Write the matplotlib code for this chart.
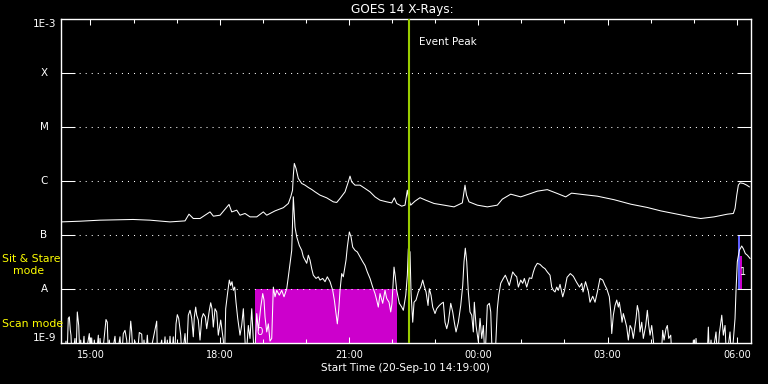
import numpy as np
import matplotlib
matplotlib.use("Agg")
import matplotlib.pyplot as plt
from matplotlib import transforms
from matplotlib.ticker import FixedLocator, MultipleLocator, NullLocator, FixedFormatter

# ---------------- data ----------------
# time in hours of day (values > 24 belong to the next day), flux as log10(W/m^2)
long_t = [14.317, 14.758, 15.222, 15.988, 16.382, 16.847, 17.195, 17.287, 17.387, 17.543,
          17.775, 17.853, 18.008, 18.216, 18.279, 18.395, 18.471, 18.587, 18.703, 18.859,
          19.012, 19.091, 19.284, 19.476, 19.593, 19.648, 19.690, 19.708, 19.731, 19.771,
          19.824, 19.903, 19.980, 20.056, 20.135, 20.212, 20.328, 20.483, 20.636, 20.715,
          20.792, 20.908, 20.984, 21.024, 21.063, 21.140, 21.256, 21.372, 21.488, 21.604,
          21.720, 21.875, 21.991, 22.052, 22.107, 22.223, 22.300, 22.354, 22.381, 22.432,
          22.532, 22.648, 22.780, 22.973, 23.205, 23.437, 23.630, 23.692, 23.727, 23.785,
          23.978, 24.210, 24.442, 24.558, 24.753, 24.985, 25.217, 25.370, 25.602, 25.834,
          26.029, 26.164, 26.454, 26.763, 27.150, 27.538, 27.923, 28.234, 28.619, 28.930,
          29.162, 29.471, 29.780, 29.919, 29.958, 29.998, 30.035, 30.074, 30.151, 30.230,
          30.290]
long_log = [-6.754, -6.741, -6.722, -6.709, -6.722, -6.754, -6.735, -6.611, -6.691, -6.691,
            -6.569, -6.648, -6.630, -6.431, -6.569, -6.537, -6.630, -6.598, -6.661, -6.661,
            -6.569, -6.630, -6.550, -6.491, -6.413, -6.291, -6.167, -5.889, -5.672, -5.765,
            -5.950, -6.043, -6.074, -6.117, -6.154, -6.198, -6.259, -6.309, -6.383, -6.394,
            -6.320, -6.198, -6.013, -5.907, -6.013, -6.074, -6.074, -6.135, -6.198, -6.291,
            -6.352, -6.383, -6.402, -6.309, -6.413, -6.463, -6.444, -6.167, -6.315, -6.444,
            -6.370, -6.306, -6.352, -6.413, -6.444, -6.476, -6.402, -6.074, -6.259, -6.383,
            -6.444, -6.476, -6.444, -6.333, -6.241, -6.291, -6.228, -6.185, -6.157, -6.228,
            -6.291, -6.222, -6.250, -6.278, -6.343, -6.426, -6.487, -6.550, -6.611, -6.661,
            -6.691, -6.661, -6.611, -6.598, -6.506, -6.259, -6.074, -6.031, -6.043, -6.074,
            -6.106]

short_t = [14.317, 14.387, 14.433, 14.456, 14.486, 14.510, 14.533, 14.549, 14.572, 14.642,
           14.665, 14.695, 14.728, 14.758, 14.774, 14.804, 14.851, 14.874, 14.974, 15.002,
           15.029, 15.060, 15.090, 15.129, 15.183, 15.199, 15.222, 15.268, 15.361, 15.391,
           15.419, 15.438, 15.477, 15.570, 15.605, 15.686, 15.721, 15.763, 15.802, 15.842,
           15.872, 15.935, 15.958, 15.988, 16.034, 16.081, 16.134, 16.190, 16.220, 16.243,
           16.278, 16.320, 16.359, 16.538, 16.556, 16.654, 16.684, 16.731, 16.754, 16.784,
           16.812, 16.847, 16.881, 16.923, 16.951, 16.986, 17.016, 17.048, 17.095, 17.125,
           17.195, 17.229, 17.271, 17.311, 17.350, 17.387, 17.411, 17.443, 17.466, 17.503,
           17.543, 17.582, 17.619, 17.666, 17.698, 17.759, 17.791, 17.821, 17.851, 17.891,
           17.930, 17.967, 18.023, 18.083, 18.111, 18.139, 18.186, 18.223, 18.255, 18.285,
           18.316, 18.348, 18.378, 18.418, 18.471, 18.510, 18.548, 18.587, 18.610, 18.664,
           18.703, 18.743, 18.780, 18.808,
           18.859, 18.896, 18.952, 18.998, 19.028, 19.051, 19.091, 19.128, 19.167, 19.207,
           19.244, 19.283, 19.323, 19.383, 19.439, 19.492, 19.555, 19.592, 19.631, 19.671,
           19.708, 19.747, 19.787, 19.847, 19.903, 19.940, 20.019, 20.056, 20.095, 20.135,
           20.172, 20.235, 20.288, 20.328, 20.390, 20.444, 20.497, 20.560, 20.622, 20.660,
           20.699, 20.729, 20.761, 20.792, 20.831, 20.868, 20.931, 20.961, 21.008, 21.047,
           21.086, 21.140, 21.193, 21.256, 21.318, 21.372, 21.425, 21.488, 21.550, 21.604,
           21.643, 21.680, 21.720, 21.782, 21.836, 21.875, 21.929, 21.968, 21.998, 22.045,
           22.075, 22.107, 22.168, 22.224, 22.261, 22.317, 22.354, 22.377, 22.416, 22.439,
           22.479, 22.509, 22.555, 22.609, 22.665, 22.711, 22.741, 22.788, 22.834, 22.864,
           22.904, 22.943, 22.996, 23.036, 23.096, 23.152, 23.189, 23.228, 23.268, 23.305,
           23.361, 23.407, 23.444, 23.484, 23.537, 23.593, 23.639, 23.669, 23.699, 23.732,
           23.769, 23.808, 23.848, 23.885, 23.908, 23.948, 24.001, 24.041, 24.080, 24.117,
           24.157, 24.210, 24.257, 24.289, 24.326, 24.389, 24.442, 24.475, 24.521, 24.581,
           24.628, 24.674, 24.720, 24.760, 24.799, 24.853, 24.892, 24.930, 24.985, 25.031,
           25.069, 25.124, 25.185, 25.240, 25.278, 25.317, 25.370, 25.433, 25.495, 25.549,
           25.602, 25.665, 25.704, 25.742, 25.781, 25.820, 25.858, 25.897, 25.960, 26.002,
           26.060, 26.136, 26.206, 26.280, 26.350, 26.401, 26.431, 26.489, 26.554, 26.593,
           26.656, 26.709, 26.763, 26.825, 26.888, 26.941, 26.981, 27.041, 27.074, 27.097,
           27.134, 27.173, 27.213, 27.250, 27.273, 27.313, 27.336, 27.366, 27.406, 27.445,
           27.482, 27.522, 27.561, 27.598, 27.661, 27.691, 27.723, 27.753, 27.793, 27.830,
           27.886, 27.923, 27.956, 27.986, 28.025, 28.062, 28.102, 28.241, 28.280, 28.311,
           28.357, 28.387, 28.420, 28.466, 28.496, 28.960, 28.991, 29.018, 29.053, 29.088,
           29.308, 29.339, 29.366, 29.401, 29.424, 29.517, 29.552, 29.594, 29.650, 29.687,
           29.726, 29.761, 29.842, 29.877, 29.919, 29.958, 29.981, 30.011, 30.058, 30.113,
           30.151, 30.197, 30.244, 30.276, 30.306]
short_log = [-9.3, -9.3, -8.96, -9.3, -8.54, -8.51, -8.76, -8.85, -9.3, -8.91,
             -9.3, -8.42, -8.67, -9.3, -8.94, -9.3, -8.87, -9.3, -8.82, -9.3,
             -8.90, -9.3, -8.94, -9.3, -8.85, -9.3, -8.91, -9.3, -8.56, -8.61,
             -9.3, -8.94, -9.3, -8.87, -9.3, -8.88, -9.3, -8.82, -8.76, -8.94,
             -9.3, -8.59, -8.79, -9.3, -8.96, -9.3, -8.80, -8.83, -9.3, -8.94,
             -9.3, -8.85, -9.3, -8.59, -9.3, -8.94, -9.3, -8.88, -9.3, -8.94,
             -9.3, -8.87, -9.3, -8.88, -9.3, -8.64, -8.47, -8.54, -8.85, -9.3,
             -8.82, -9.3, -8.48, -8.39, -8.54, -8.88, -8.51, -8.33, -8.48, -8.57,
             -8.94, -8.54, -8.45, -8.51, -8.73, -8.39, -8.25, -8.36, -8.70, -8.36,
             -8.42, -8.85, -8.57, -8.94, -9.3, -8.36, -8.05, -7.83, -7.93, -7.86,
             -8.02, -7.96, -8.24, -8.54, -8.85, -8.67, -8.36, -8.94, -9.3, -8.67,
             -8.91, -8.36, -8.94, -9.3,
             -8.45, -8.76, -8.33, -8.08, -8.20, -8.51, -8.79, -8.64, -8.96, -8.91,
             -7.96, -8.14, -8.02, -8.11, -8.02, -8.14, -7.99, -7.77, -7.52, -7.28,
             -6.29, -6.85, -7.03, -7.19, -7.28, -7.40, -7.52, -7.37, -7.46, -7.62,
             -7.74, -7.80, -7.77, -7.83, -7.80, -7.86, -7.77, -7.86, -8.02, -8.20,
             -8.45, -8.64, -8.39, -8.02, -7.71, -7.77, -7.46, -7.22, -6.94, -7.03,
             -7.22, -7.28, -7.31, -7.40, -7.49, -7.56, -7.68, -7.80, -7.96, -8.08,
             -8.20, -8.33, -8.08, -8.26, -8.02, -8.17, -8.24, -8.42, -8.26, -7.59,
             -7.77, -8.02, -8.26, -8.33, -8.39, -8.11, -7.74, -7.25, -7.31, -8.05,
             -8.61, -8.24, -8.20, -8.05, -7.96, -7.83, -7.93, -8.05, -8.30, -7.99,
             -8.11, -8.33, -8.45, -8.36, -8.30, -8.26, -8.24, -8.61, -8.73, -8.61,
             -8.26, -8.42, -8.61, -8.79, -8.61, -8.30, -7.93, -7.49, -7.24, -7.49,
             -8.05, -8.42, -8.48, -8.79, -8.24, -8.67, -8.97, -8.54, -8.91, -8.67,
             -9.3, -8.30, -8.26, -8.42, -9.3, -9.3, -8.36, -8.11, -7.89, -7.80,
             -7.74, -7.83, -7.93, -7.80, -7.68, -7.74, -7.77, -7.96, -7.83, -7.89,
             -7.80, -7.96, -7.79, -7.80, -7.68, -7.59, -7.52, -7.54, -7.59, -7.62,
             -7.68, -7.74, -7.96, -8.02, -8.05, -7.96, -8.02, -7.91, -8.14, -8.02,
             -7.78, -7.71, -7.76, -7.87, -7.96, -7.89, -8.05, -7.86, -8.04, -8.24,
             -8.13, -8.24, -8.05, -7.80, -7.83, -7.93, -7.99, -8.14, -8.42, -8.82,
             -8.48, -8.30, -8.20, -8.33, -8.24, -8.45, -8.61, -8.45, -8.57, -8.70,
             -8.94, -8.67, -8.73, -8.91, -8.54, -8.30, -8.42, -8.79, -8.61, -8.91,
             -8.67, -8.39, -8.67, -8.85, -8.67, -8.94, -9.3, -9.3, -8.76, -8.94,
             -8.73, -8.67, -8.91, -8.85, -9.3, -9.3, -8.94, -9.3, -8.91, -9.3,
             -9.3, -8.70, -9.3, -8.94, -9.3, -8.79, -9.3, -8.82, -8.48, -8.85,
             -8.67, -9.3, -8.79, -9.3, -8.94, -8.54, -8.02, -7.49, -7.28, -7.20,
             -7.25, -7.34, -7.37, -7.40, -7.43]

t_start, t_end = 14.317, 30.317
event_peak_t = 22.393
scan_block = (18.819, 22.107)          # magenta block: scan mode period
scan_bar = (30.074, 30.109, -7.39)     # right magenta bar (t0, t1, top log flux)
sit_bar = (30.028, 30.074, -7.0)       # right blue bar (t0, t1, top log flux)

major_hours = [15, 18, 21, 24, 27, 30]
major_labels = ["15:00", "18:00", "21:00", "00:00", "03:00", "06:00"]
class_levels = [1e-8, 1e-7, 1e-6, 1e-5, 1e-4]
class_labels = ["A", "B", "C", "M", "X"]

# ---------------- figure ----------------
plt.rcParams['font.family'] = ['DejaVu Sans']
W, H = 768, 384
fig = plt.figure(figsize=(W / 100, H / 100), dpi=100, facecolor='black')
ax = fig.add_axes([61 / W, 1 - 343.3 / H, 689.5 / W, (343.3 - 19) / H])
ax.set_facecolor('black')
ax.set_yscale('log')
ax.set_xlim(t_start, t_end)
ax.set_ylim(1e-9, 1e-3)

for s in ax.spines.values():
    s.set_color('white')
    s.set_linewidth(1.0)

lt = np.array(long_t)
lf = 10.0 ** np.array(long_log)
st = np.array(short_t)
sf = 10.0 ** np.array(short_log)

# scan-mode block
ax.fill_between(list(scan_block), [1e-9, 1e-9], [1e-8, 1e-8], color='#cc00cc',
                linewidth=0, zorder=1)
ax.fill_between([sit_bar[0], sit_bar[1]], [1e-8, 1e-8], [10 ** sit_bar[2]] * 2,
                color='#6060ff', linewidth=0, zorder=1)
ax.fill_between([scan_bar[0], scan_bar[1]], [1e-8, 1e-8], [10 ** scan_bar[2]] * 2,
                color='#cc00cc', linewidth=0, zorder=1.1)

# dotted class grid lines
for lv in class_levels:
    ax.axhline(lv, color='white', linestyle=(0, (1, 4.8)), linewidth=0.75, zorder=1.6)

ax.plot(lt, lf, color='white', linewidth=0.75, zorder=2)
ax.plot(st, sf, color='white', linewidth=0.75, zorder=2)

ax.axvline(event_peak_t, color='#99cc00', linewidth=1.5, zorder=3)
ax.text(22.625, 10 ** -3.431, "Event Peak", color='white', fontsize=7.5,
        ha='left', va='center')
ax.text(18.935, 10 ** -8.80, "0", color='white', fontsize=7.5, ha='center', va='center')
ax.text(30.132, 10 ** -7.685, "1", color='white', fontsize=7, ha='center', va='center')

# ticks
ax.xaxis.set_major_locator(FixedLocator(major_hours))
ax.xaxis.set_major_formatter(FixedFormatter(major_labels))
ax.xaxis.set_minor_locator(MultipleLocator(1))
ax.tick_params(axis='x', which='major', direction='in', length=4.3, width=0.75,
               colors='white', top=True, bottom=True, labelsize=7, pad=5)
ax.tick_params(axis='x', which='minor', direction='in', length=2.9, width=0.75,
               colors='white', top=True, bottom=True)
ax.yaxis.set_major_locator(FixedLocator(class_levels))
ax.yaxis.set_minor_locator(NullLocator())
ax.tick_params(axis='y', which='major', direction='in', length=10, width=0.75,
               colors='white', left=True, right=True, labelleft=False)

# y labels
ytr = transforms.blended_transform_factory(fig.transFigure, ax.transData)
for lv, lb in zip(class_levels, class_labels):
    ax.text(44 / W, lv, lb, transform=ytr, color='white', fontsize=7.5,
            ha='center', va='center')
ax.text(56.5 / W, 1e-3, "1E-3", transform=ytr, color='white', fontsize=7.5,
        ha='right', va='top')
ax.text(56.5 / W, 1e-9, "1E-9", transform=ytr, color='white', fontsize=7.5,
        ha='right', va='bottom')

# mode labels
fig.text(1.7 / W, 1 - 259 / H, "Sit & Stare", color='#ffff00', fontsize=7.8,
         ha='left', va='center')
fig.text(12.7 / W, 1 - 271 / H, "mode", color='#ffff00', fontsize=7.8,
         ha='left', va='center')
fig.text(1.7 / W, 1 - 324 / H, "Scan mode", color='#ffff00', fontsize=7.8,
         ha='left', va='center')

fig.text(402 / W, 1 - 10 / H, "GOES 14 X-Rays:", color='white', fontsize=8.7,
         ha='center', va='center')
fig.text(405.5 / W, 1 - 368 / H, "Start Time (20-Sep-10 14:19:00)", color='white',
         fontsize=7.5, ha='center', va='center')

fig.savefig("out.png", dpi=100, facecolor='black')
